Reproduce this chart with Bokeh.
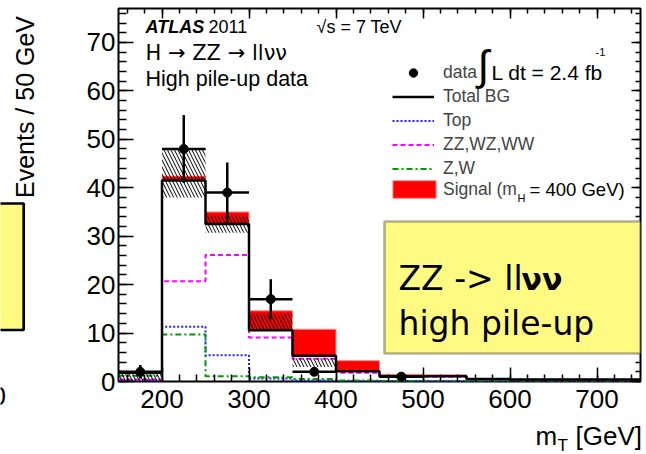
import math
from bokeh.plotting import figure
from bokeh.layouts import row, column
from bokeh.core.properties import value
from bokeh.models import (Range1d, LinearAxis, SingleIntervalTicker, Label, BoxAnnotation,
                          Legend, LegendItem, CustomJSTickFormatter, ColumnDataSource)
from bokeh.embed import file_html
from bokeh.resources import INLINE

# ---------------- data ----------------
bin_lo = [150, 200, 250, 300, 350, 400, 450, 500, 550, 600, 650, 700]
bin_w = 50
total_bg = [1.8, 41.5, 32.5, 10.6, 5.3, 2.1, 1.1, 1.1, 0.5, 0.4, 0.4, 0.4]
top_bg   = [0.3, 11.3, 5.4, 0.6, 0.2, 0.1, 0.1, 0.1, 0.05, 0.05, 0.05, 0.05]
diboson  = [0.4, 20.7, 26.1, 9.1, 4.7, 1.8, 1.0, 1.0, 0.45, 0.35, 0.35, 0.35]
zw_bg    = [1.2, 9.7, 1.1, 0.9, 0.5, 0.2, 0.05, 0.0, 0.0, 0.0, 0.0, 0.0]
signal   = [0.0, 0.9, 2.5, 4.0, 5.5, 2.2, 0.4, 0.3, 0.1, 0.0, 0.0, 0.0]
band_lo  = [0.0, 38.0, 30.7, 10.6, 3.0, 0.0, 0.0, 0.0, 0.0, 0.0, 0.0, 0.0]
band_hi  = [1.8, 48.2, 34.2, 14.0, 4.8, 0.0, 0.0, 0.0, 0.0, 0.0, 0.0, 0.0]
data_val = [2, 48, 39, 17, 2, 0, 1, 0, 0, 0, 0, 0]
data_err = [1.4, 7.0, 6.2, 4.1, 0, 0, 0, 0, 0, 0, 0, 0]

FONT = "Liberation Sans"
YELLOW = "#fffa82"
PAGE_W, PAGE_H = 646, 454
LEFT_W = 48          # left strip: y title and the neighbouring panel's box
TOP_H = 420          # height of the histogram figure
MAIN_W = PAGE_W - LEFT_W
BOT_H = PAGE_H - TOP_H

# ---------------- main histogram figure ----------------
p = figure(width=MAIN_W, height=TOP_H, output_backend="svg", toolbar_location=None,
           x_range=Range1d(150, 750), y_range=Range1d(0, 77),
           min_border_left=118 - LEFT_W, min_border_right=6, min_border_top=8,
           min_border_bottom=39)
p.grid.visible = False
p.outline_line_color = "black"
p.outline_line_width = 2
p.background_fill_color = "white"
p.border_fill_color = "white"

xa = p.xaxis[0]
xa.ticker = SingleIntervalTicker(interval=100, num_minor_ticks=5)
ya = p.yaxis[0]
ya.ticker = SingleIntervalTicker(interval=10, num_minor_ticks=5)
for ax, mj, mn in ((xa, 14, 7), (ya, 15, 8)):
    ax.axis_line_color = None
    ax.major_tick_in = mj
    ax.major_tick_out = 0
    ax.minor_tick_in = mn
    ax.minor_tick_out = 0
    ax.major_tick_line_width = 1.5
    ax.minor_tick_line_width = 1.5
    ax.major_label_text_font = FONT
    ax.major_label_text_font_size = "26px"
    ax.major_label_text_color = "black"
xa.major_label_standoff = 8
ya.major_label_standoff = 3

for place, interval, mj, mn in (("above", 100, 10, 5), ("right", 10, 9, 5)):
    ax = LinearAxis(ticker=SingleIntervalTicker(interval=interval, num_minor_ticks=5),
                    formatter=CustomJSTickFormatter(code="return ''"),
                    axis_line_color=None, major_tick_in=mj, major_tick_out=0,
                    minor_tick_in=mn, minor_tick_out=0, major_label_standoff=0,
                    major_tick_line_width=1.5, minor_tick_line_width=1.5,
                    major_label_text_font_size="1px")
    p.add_layout(ax, place)

edges = bin_lo + [bin_lo[-1] + bin_w]
def stepy(v):
    return list(v) + [v[-1]]

# signal stacked on top of the total background
sig_src = ColumnDataSource(dict(
    left=[b for b, s in zip(bin_lo, signal) if s > 0],
    right=[b + bin_w for b, s in zip(bin_lo, signal) if s > 0],
    bottom=[t for t, s in zip(total_bg, signal) if s > 0],
    top=[t + s for t, s in zip(total_bg, signal) if s > 0]))
r_sig = p.quad(left="left", right="right", bottom="bottom", top="top", source=sig_src,
               fill_color="#ff0000", line_color="#ff9090", line_width=1)

r_top = p.step(edges, stepy(top_bg), mode="after", line_color="#2222ff", line_width=2,
               line_dash="2 2")
r_zz = p.step(edges, stepy(diboson), mode="after", line_color="#ff00ff", line_width=2,
              line_dash="5 3")
r_zw = p.step(edges, stepy(zw_bg), mode="after", line_color="#009900", line_width=2,
              line_dash="6 3 2 3")
r_tot = p.step(edges, stepy(total_bg), mode="after", line_color="black", line_width=2.5)

band_src = ColumnDataSource(dict(
    left=[b for b, lo, hi in zip(bin_lo, band_lo, band_hi) if hi > lo],
    right=[b + bin_w for b, lo, hi in zip(bin_lo, band_lo, band_hi) if hi > lo],
    bottom=[lo for lo, hi in zip(band_lo, band_hi) if hi > lo],
    top=[hi for lo, hi in zip(band_lo, band_hi) if hi > lo]))
p.quad(left="left", right="right", bottom="bottom", top="top", source=band_src,
       fill_alpha=0, line_color=None, hatch_pattern="\\", hatch_color="black",
       hatch_scale=7, hatch_weight=1)

# data points with error bars
dsel = [i for i, v in enumerate(data_val) if v > 0]
dx = [bin_lo[i] + bin_w / 2 for i in dsel]
dy = [data_val[i] for i in dsel]
p.segment(x0=[bin_lo[i] for i in dsel], x1=[bin_lo[i] + bin_w for i in dsel], y0=dy, y1=dy,
          line_color="black", line_width=2.5)
esel = [i for i in dsel if data_err[i] > 0]
p.segment(x0=[bin_lo[i] + bin_w / 2 for i in esel], x1=[bin_lo[i] + bin_w / 2 for i in esel],
          y0=[data_val[i] - data_err[i] for i in esel], y1=[data_val[i] + data_err[i] for i in esel],
          line_color="black", line_width=2.5)
r_data = p.scatter(dx, dy, size=9, marker="circle", fill_color="black", line_color="black")

# legends
leg1 = Legend(items=[LegendItem(label="data", renderers=[r_data]),
                     LegendItem(label="Total BG", renderers=[r_tot]),
                     LegendItem(label="Top", renderers=[r_top]),
                     LegendItem(label="ZZ,WZ,WW", renderers=[r_zz]),
                     LegendItem(label="Z,W", renderers=[r_zw])],
              location=(274, 202), padding=0, margin=0, spacing=3,
              glyph_width=42, glyph_height=21, label_height=21, label_standoff=9,
              label_text_font=FONT, label_text_font_size="17.5px",
              border_line_color=None, background_fill_alpha=0)
leg2 = Legend(items=[LegendItem(label="Signal (m", renderers=[r_sig])],
              location=(269, 181), padding=0, margin=0, spacing=0,
              glyph_width=54, glyph_height=22, label_height=22, label_standoff=2,
              label_text_font=FONT, label_text_font_size="17.5px",
              border_line_color=None, background_fill_alpha=0)
p.add_layout(leg1)
p.add_layout(leg2)

def txt(x, y, s, size, font=FONT, style="normal", align="left"):
    # x: page pixels from the left, y: page pixels from the top (middle of the text)
    p.add_layout(Label(x=x - LEFT_W, y=y, x_units="canvas", y_units="canvas", text=s,
                       text_font=font, text_font_size=size, text_font_style=style,
                       text_align=align, text_baseline="middle", text_color="black"))

txt(145, 26, "ATLAS", "18px", style="bold italic")
txt(208, 26, "2011", "18px")
txt(316, 26, "\u221as = 7 TeV", "18px")
txt(145, 52, "H \u2192 ZZ \u2192 ll\u03bd\u03bd", "21px", font="DejaVu Sans")
txt(145, 78, "High pile-up data", "21.5px")
txt(477, 65, "\u222b", "42px")
txt(491, 72, "L dt = 2.4 fb", "21px")
txt(595, 51, "-1", "11px")
txt(517, 197, "H", "11px")
txt(529, 189, "= 400 GeV)", "18.5px")

# yellow note box (clipped at the frame like the rest of the plot area)
p.add_layout(BoxAnnotation(left=384 - LEFT_W, right=640 - LEFT_W, top=221, bottom=353,
                           left_units="canvas", right_units="canvas", top_units="canvas",
                           bottom_units="canvas", fill_color=YELLOW, fill_alpha=1,
                           line_color="black", line_width=2.7, level="annotation"))
txt(398, 278, "ZZ -> ll", "33px", font="DejaVu Sans")
txt(521, 279, "\u03bd\u03bd", "30px", font="DejaVu Sans", style="bold")
txt(398, 323, "high pile-up", "33px", font="DejaVu Sans")

def strip(w, h, x0):
    f = figure(width=w, height=h, output_backend="svg", toolbar_location=None,
               x_range=Range1d(x0, x0 + w), y_range=Range1d(0, h),
               x_axis_type=None, y_axis_type=None, min_border=0)
    f.grid.visible = False
    f.outline_line_color = None
    f.background_fill_color = "white"
    f.border_fill_color = "white"
    return f

# ---------------- left strip (y = TOP_H - page pixel) ----------------
left = strip(LEFT_W, TOP_H, 0)
left.quad(left=[-10], right=[23.2], top=[TOP_H - 203], bottom=[TOP_H - 329.5],
          fill_color=YELLOW, line_color="black", line_width=2.7)
left.text(x=[5.5], y=[TOP_H - 395], text=["0"], text_font=value(FONT),
          text_font_size=value("26px"), text_align="right", text_baseline="middle",
          text_color="black")
left.text(x=[24], y=[TOP_H - 106.5], text=["Events / 50 GeV"], text_font=value(FONT),
          text_font_size=value("25px"), angle=math.pi / 2, text_align="center",
          text_baseline="middle", text_color="black")

# ---------------- bottom strip across the page: x title (y = PAGE_H - page pixel) ----------
bot = strip(PAGE_W, BOT_H, 0)
bot.text(x=[535], y=[PAGE_H - 435], text=["m"], text_font=value(FONT),
         text_font_size=value("26px"), text_baseline="middle", text_color="black")
bot.text(x=[557], y=[PAGE_H - 445], text=["T"], text_font=value(FONT),
         text_font_size=value("17px"), text_baseline="middle", text_color="black")
bot.text(x=[575], y=[PAGE_H - 435], text=["[GeV]"], text_font=value(FONT),
         text_font_size=value("26px"), text_baseline="middle", text_color="black")

layout = column(row(left, column(p, spacing=0), spacing=0), bot, spacing=0)
open("out.html", "w").write(file_html(layout, INLINE))
